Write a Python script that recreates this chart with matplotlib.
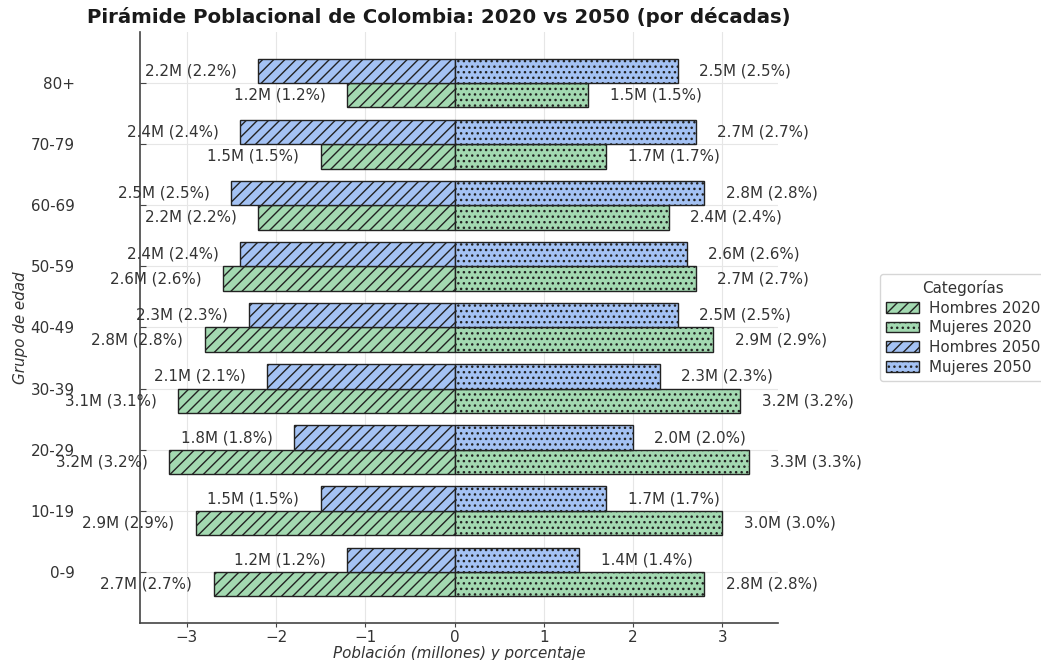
import numpy as np
import matplotlib
matplotlib.use("Agg")
import matplotlib.pyplot as plt

# Age groups and population (millions) per sex and year
grupos = ['0-9', '10-19', '20-29', '30-39', '40-49', '50-59', '60-69', '70-79', '80+']
hombres_2020 = [2.7, 2.9, 3.2, 3.1, 2.8, 2.6, 2.2, 1.5, 1.2]
mujeres_2020 = [2.8, 3.0, 3.3, 3.2, 2.9, 2.7, 2.4, 1.7, 1.5]
hombres_2050 = [1.2, 1.5, 1.8, 2.1, 2.3, 2.4, 2.5, 2.4, 2.2]
mujeres_2050 = [1.4, 1.7, 2.0, 2.3, 2.5, 2.6, 2.8, 2.7, 2.5]

VERDE = '#a3d9b1'
AZUL = '#a4c2f4'
TXT = '#333333'
FS = 10.9

plt.rcParams['hatch.color'] = '#1a1a1a'
plt.rcParams['hatch.linewidth'] = 1.0
plt.rcParams['font.family'] = ['DejaVu Sans']

fig = plt.figure(figsize=(10.41, 6.6), dpi=100)
ax = fig.add_axes([0.1345, 0.0556, 0.6129, 0.8964])

y = np.arange(len(grupos))
h = 0.4
edge = dict(edgecolor='#222222', linewidth=1.0)

b_h20 = ax.barh(y - h / 2, -np.array(hombres_2020), height=h, color=VERDE, hatch='///', label='Hombres 2020', **edge)
b_m20 = ax.barh(y - h / 2, mujeres_2020, height=h, color=VERDE, hatch='...', label='Mujeres 2020', **edge)
b_h50 = ax.barh(y + h / 2, -np.array(hombres_2050), height=h, color=AZUL, hatch='///', label='Hombres 2050', **edge)
b_m50 = ax.barh(y + h / 2, mujeres_2050, height=h, color=AZUL, hatch='...', label='Mujeres 2050', **edge)

off = 0.24
for yy, vals, side in [(y - h / 2, hombres_2020, -1), (y - h / 2, mujeres_2020, 1),
                       (y + h / 2, hombres_2050, -1), (y + h / 2, mujeres_2050, 1)]:
    for yi, v in zip(yy, vals):
        ax.text(side * (v + off), yi, f'{v:.1f}M ({v:.1f}%)',
                ha='left' if side > 0 else 'right', va='center',
                fontsize=FS, color=TXT, clip_on=False)

ax.set_yticks(y)
ax.set_yticklabels(grupos)
ax.set_xticks([-3, -2, -1, 0, 1, 2, 3])
ax.set_xticklabels(['\u22123', '\u22122', '\u22121', '0', '1', '2', '3'])
ax.tick_params(axis='y', direction='in', length=4, pad=47, labelsize=FS, labelcolor=TXT, color='#444444')
ax.tick_params(axis='x', direction='out', length=3, pad=1.5, labelsize=FS, labelcolor=TXT, color='#444444')

ax.grid(True, color='#e6e6e6', linewidth=0.8)
ax.set_axisbelow(True)
for s in ['top', 'right']:
    ax.spines[s].set_visible(False)
for s in ['left', 'bottom']:
    ax.spines[s].set_color('#444444')
    ax.spines[s].set_linewidth(1.2)

ax.set_xlabel('Población (millones) y porcentaje', fontsize=FS, style='italic', color=TXT, labelpad=0)
ax.set_ylabel('Grupo de edad', fontsize=FS, style='italic', color=TXT)
ax.yaxis.set_label_coords(-0.175, 0.5)

fig.text(439 / 1041, 1 - 17 / 660, 'Pirámide Poblacional de Colombia: 2020 vs 2050 (por décadas)',
         ha='center', va='center', fontsize=14.2, fontweight='bold', color='#1a1a1a')

leg = ax.legend(handles=[b_h20, b_m20, b_h50, b_m50], title='Categorías',
                loc='center left', bbox_to_anchor=(1.16, 0.5), borderaxespad=0,
                fontsize=FS, title_fontsize=FS, frameon=True, labelspacing=0.3,
                handlelength=2.2, handletextpad=0.6)
leg.get_frame().set_edgecolor('#cccccc')
for t in leg.get_texts():
    t.set_color(TXT)
leg.get_title().set_color(TXT)

fig.savefig('out.png', dpi=100)
